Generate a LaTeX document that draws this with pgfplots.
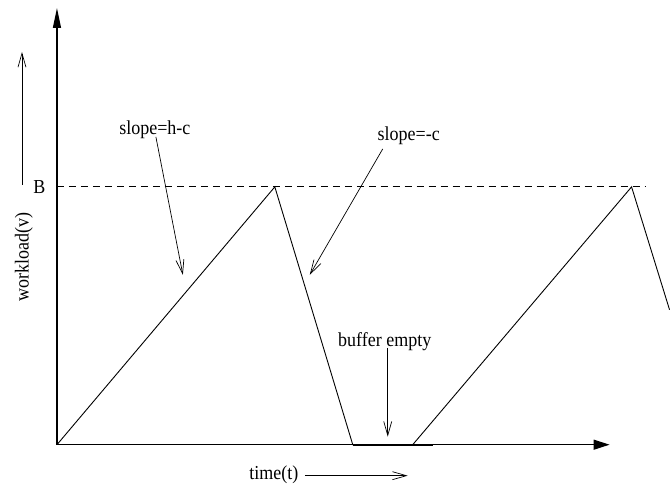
\documentclass[border=0pt]{standalone}
\usepackage{pgfplots}
\pgfplotsset{compat=1.18}
\usepackage{graphicx}
\usepackage{fontspec}
\setmainfont{Liberation Serif}
\usetikzlibrary{arrows.meta}
\newcommand\T[1]{\scalebox{1}[1.1]{#1}}

\begin{document}
\begin{tikzpicture}
  \begin{axis}[
      x=1pt, y=1pt,
      xmin=0, xmax=553, ymin=0, ymax=437,
      enlargelimits=false,
      axis lines=left,
      x axis line style={line width=1.3pt, -{Triangle[length=16pt,width=10pt]}},
      y axis line style={line width=1.3pt, -{Triangle[length=20pt,width=8pt]}},
      xtick=\empty, ytick=\empty,
      clip=false,
      font=\fontsize{18}{20}\selectfont,
    ]
    % workload curve
    \addplot[black, line width=0.9pt] coordinates {
      (0,0) (218,258) (296,0) (356,0) (575,258) (613,135)
    };
    % buffer empty stretch
    \addplot[black, line width=1.8pt] coordinates {(296,0) (376,0)};
    % level B
    \addplot[black, line width=0.8pt, dash pattern=on 7pt off 5pt] coordinates {(0,258) (589,258)};

    \node[anchor=east] at (axis cs:-8,258) {\T{B}};
    \node at (axis cs:98,315) {\T{slope=h-c}};
    \draw[line width=0.7pt, -{Straight Barb[length=14pt,width=8pt]}] (axis cs:99,308) -- (axis cs:126,170);
    \node at (axis cs:352,309) {\T{slope=-c}};
    \draw[line width=0.7pt, -{Straight Barb[length=14pt,width=8pt]}] (axis cs:326,296) -- (axis cs:253,170);
    \node at (axis cs:328,103) {\T{buffer empty}};
    \draw[line width=0.7pt, -{Straight Barb[length=14pt,width=8pt]}] (axis cs:331,97) -- (axis cs:331,8);
    \node[rotate=90] at (axis cs:-33,188) {\T{workload(v)}};
    \draw[line width=0.7pt, -{Straight Barb[length=14pt,width=8pt]}] (axis cs:-35,260) -- (axis cs:-35,393);
    \node at (axis cs:217,-30) {\T{time(t)}};
    \draw[line width=0.7pt, -{Straight Barb[length=14pt,width=8pt]}] (axis cs:248,-31) -- (axis cs:351,-31);
    \path (axis cs:-57,-47) rectangle (axis cs:613,445);
  \end{axis}
\end{tikzpicture}
\end{document}
